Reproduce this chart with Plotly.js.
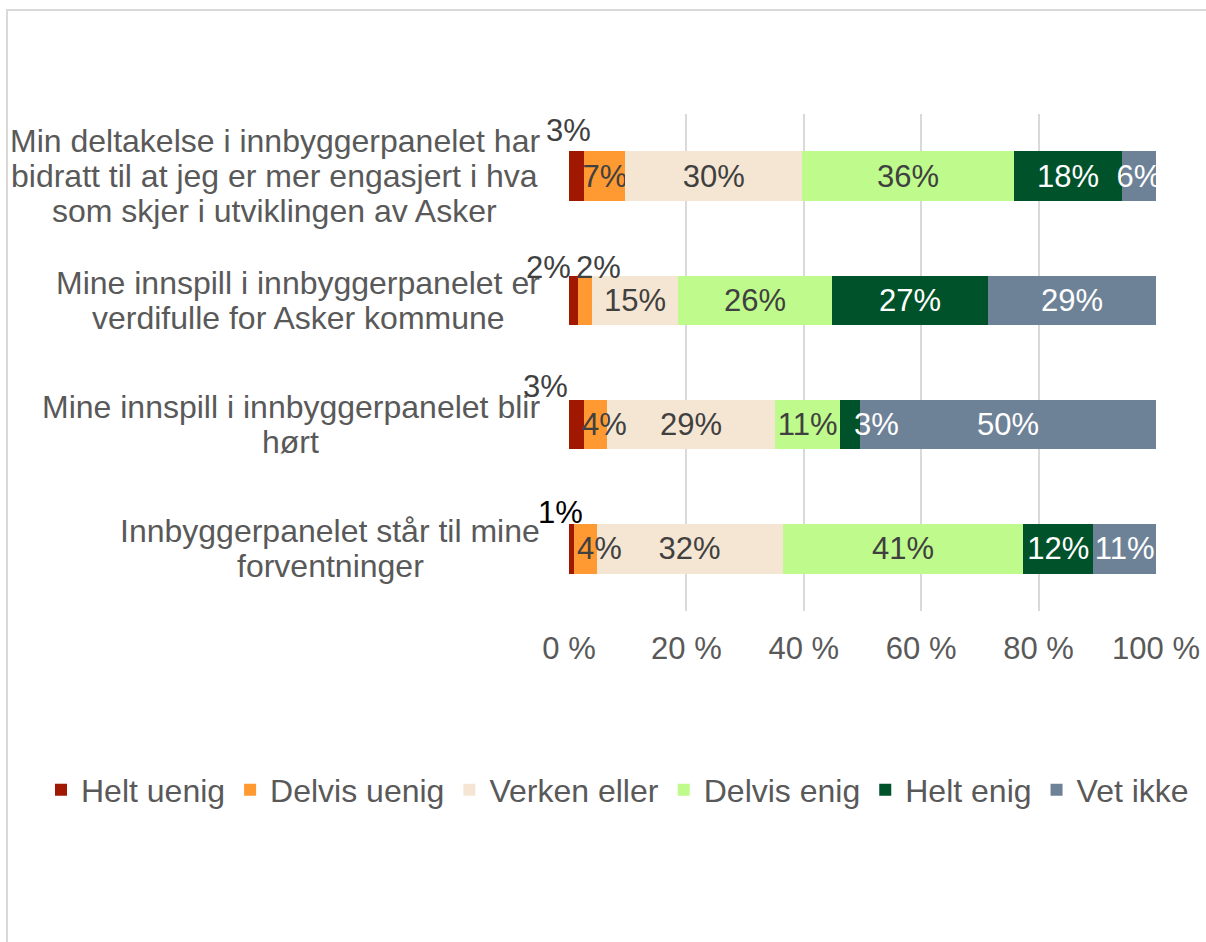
<!DOCTYPE html>
<html>
<head>
<meta charset="utf-8">
<script src="https://cdn.plot.ly/plotly-3.0.1.min.js"></script>
<style>
  html, body { margin: 0; padding: 0; background: #fff; }
  #wrap { position: relative; width: 1206px; height: 942px; }
  #chart { position: absolute; left: 0; top: 0; width: 1206px; height: 942px; }
  #frame { position: absolute; left: 6px; top: 9px; width: 1300px; height: 1000px;
           border-top: 2px solid #d9d9d9; border-left: 2px solid #d9d9d9; pointer-events: none; }
</style>
</head>
<body>
<div id="wrap">
  <div id="chart"></div>
  <div id="frame"></div>
</div>
<script>
// Categories (tick labels, with line breaks as in the reference)
const categories = [
  'Min deltakelse i innbyggerpanelet har<br>bidratt til at jeg er mer engasjert i hva<br>som skjer i utviklingen av Asker',
  'Mine innspill i innbyggerpanelet er<br>verdifulle for Asker kommune',
  'Mine innspill i innbyggerpanelet blir<br>hørt',
  'Innbyggerpanelet står til mine<br>forventninger'
];

// Series names
const seriesNames = ['Helt uenig', 'Delvis uenig', 'Verken eller', 'Delvis enig', 'Helt enig', 'Vet ikke'];

// Series values (percent)
const heltUenig   = [2.6, 1.6, 2.6, 0.8];
const delvisUenig = [7.0, 2.3, 3.9, 3.9];
const verkenEller = [30.1, 14.7, 28.6, 31.7];
const delvisEnig  = [36.1, 26.2, 11.1, 41.0];
const heltEnig    = [18.4, 26.6, 3.4, 11.9];
const vetIkke     = [5.8, 28.6, 50.4, 10.7];

// X-axis ticks
const tickValues = [0, 20, 40, 60, 80, 100];
const tickLabels = ['0 %', '20 %', '40 %', '60 %', '80 %', '100 %'];

// Styles
const seriesValues = [heltUenig, delvisUenig, verkenEller, delvisEnig, heltEnig, vetIkke];
const colors = ['#A01800', '#FF9A33', '#F5E6D3', '#BFFA8C', '#00522A', '#6E8297'];
const textColors = ['#404040', '#404040', '#404040', '#404040', '#ffffff', '#ffffff'];
const FONT = 'Liberation Sans, Arial, sans-serif';
const FS = 31;
const LABEL_FS = 32;
const LINE_PITCH = 35;
const LABEL_RIGHT_PX = 540;   // right edge of the category label blocks
const PLOT_LEFT_PX = 569;

// Labels that are moved (as Excel's label placement does): [series, row, dx px, dy px, color]
const movedLabels = [
  [0, 0, -8, 46, '#404040'],
  [0, 1, -25, 33, '#404040'],
  [1, 1, 13, 33, '#404040'],
  [0, 2, -31, 38, '#404040'],
  [0, 3, -11, 36, '#000000'],
  [1, 2, 9, 0, '#404040'],
  [4, 2, 26, 0, '#ffffff'],
  [1, 3, 14, 0, '#404040']
];

function isMoved(s, r) {
  return movedLabels.some(m => m[0] === s && m[1] === r);
}

const traces = seriesValues.map((vals, s) => ({
  type: 'bar',
  orientation: 'h',
  name: seriesNames[s],
  x: vals,
  y: categories,
  marker: { color: colors[s], line: { width: 0 } },
  texttemplate: '%{x:.0f}%',
  textposition: vals.map((v, r) => isMoved(s, r) ? 'none' : 'inside'),
  insidetextanchor: 'middle',
  constraintext: 'none',
  textangle: 0,
  textfont: { family: FONT, size: FS, color: textColors[s] },
  cliponaxis: true,
  hoverinfo: 'skip'
}));

const annotations = [];
// Category labels: one annotation per line, block centred, block right edge at LABEL_RIGHT_PX
const ctx = document.createElement('canvas').getContext('2d');
ctx.font = LABEL_FS + 'px "Liberation Sans", Arial, sans-serif';
categories.forEach(c => {
  const lines = c.split('<br>');
  const blockW = Math.max(...lines.map(l => ctx.measureText(l).width));
  const centerPx = LABEL_RIGHT_PX - blockW / 2;
  lines.forEach((line, i) => {
    annotations.push({
      xref: 'paper', yref: 'y', x: 0, y: c, xanchor: 'center', yanchor: 'middle',
      xshift: centerPx - PLOT_LEFT_PX,
      yshift: ((lines.length - 1) / 2 - i) * LINE_PITCH,
      showarrow: false, text: line,
      font: { family: FONT, size: LABEL_FS, color: '#595959' }
    });
  });
});
// Moved data labels
movedLabels.forEach(([s, r, dx, dy, col]) => {
  let start = 0;
  for (let k = 0; k < s; k++) start += seriesValues[k][r];
  const v = seriesValues[s][r];
  annotations.push({
    xref: 'x', yref: 'y', x: start + v / 2, y: categories[r],
    xanchor: 'center', yanchor: 'middle', xshift: dx, yshift: dy,
    showarrow: false, text: Math.round(v) + '%',
    font: { family: FONT, size: FS, color: col }
  });
});

const layout = {
  width: 1206, height: 942,
  margin: { l: PLOT_LEFT_PX, r: 50, t: 114, b: 331 },
  paper_bgcolor: '#ffffff', plot_bgcolor: '#ffffff',
  barmode: 'stack',
  bargap: 0.6,
  font: { family: FONT, size: FS, color: '#595959' },
  xaxis: {
    range: [0, 100],
    tickvals: tickValues, ticktext: tickLabels,
    showgrid: true, gridcolor: '#d9d9d9', gridwidth: 2,
    zeroline: false, showline: false, ticks: '',
    ticklabelstandoff: 16,
    tickfont: { family: FONT, size: FS, color: '#595959' },
    fixedrange: true
  },
  yaxis: {
    type: 'category', autorange: 'reversed',
    showticklabels: false, showgrid: false, zeroline: false, showline: false, ticks: '',
    fixedrange: true
  },
  showlegend: true,
  legend: {
    orientation: 'h', traceorder: 'normal',
    xref: 'paper', yref: 'paper',
    x: (41 - PLOT_LEFT_PX) / 587, xanchor: 'left',
    y: (611 - 790) / 497, yanchor: 'middle',
    font: { family: FONT, size: 32, color: '#595959' },
    bgcolor: 'rgba(0,0,0,0)', borderwidth: 0
  },
  annotations: annotations
};

Plotly.newPlot('chart', traces, layout, { displayModeBar: false, staticPlot: true });
</script>
</body>
</html>
